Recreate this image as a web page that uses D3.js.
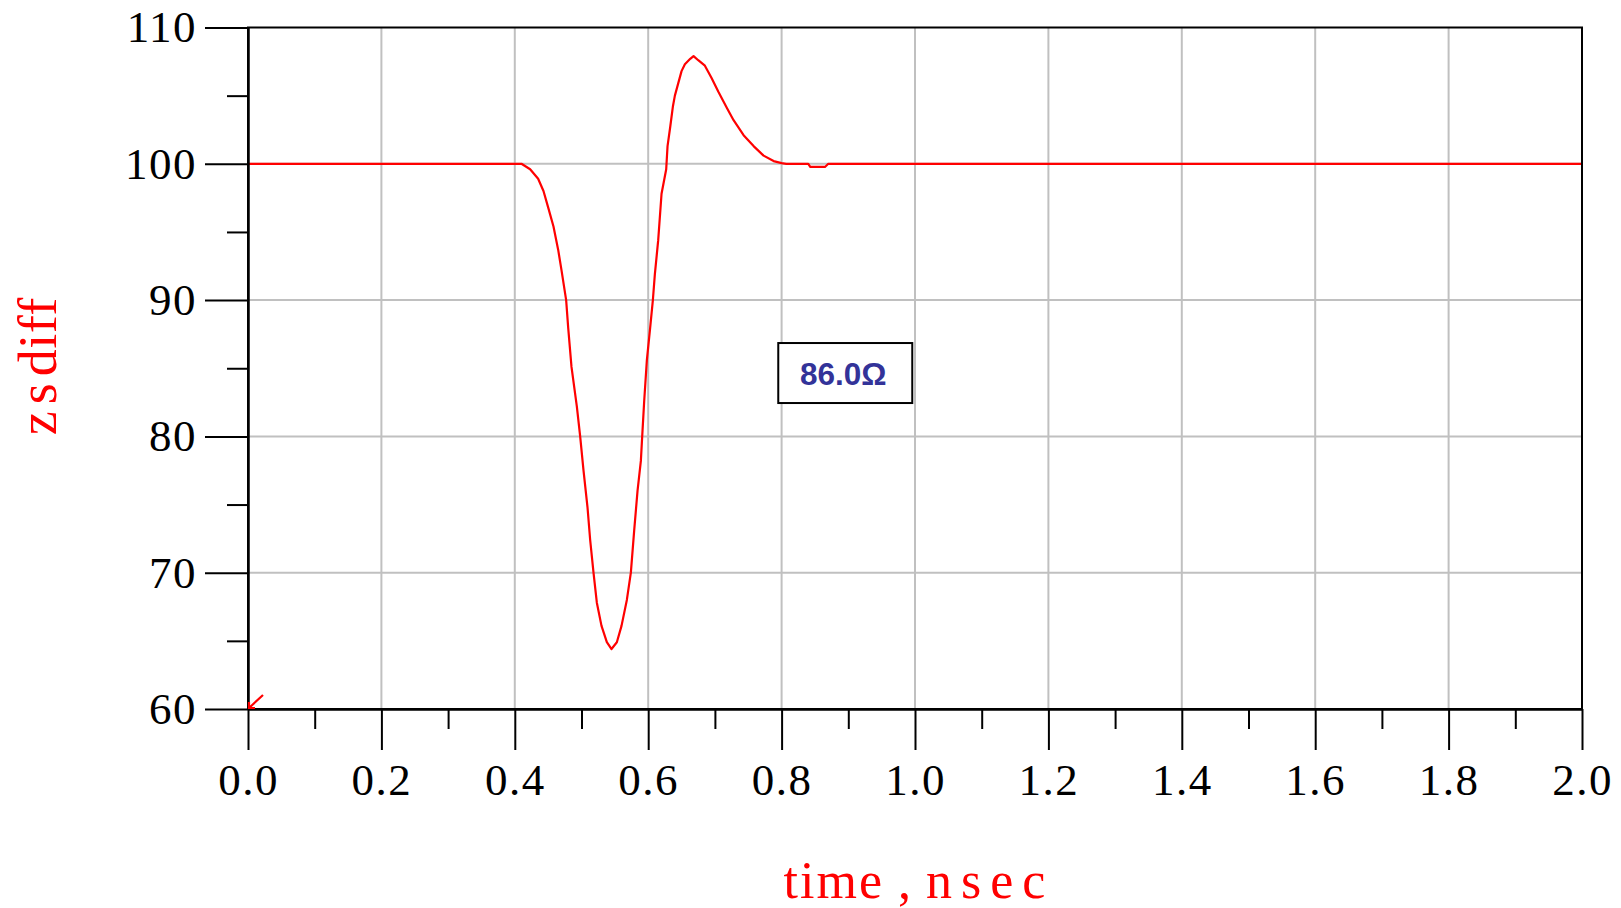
<!DOCTYPE html>
<html>
<head>
<meta charset="utf-8">
<script src="https://cdn.jsdelivr.net/npm/d3@7"></script>
<style>
  body { margin: 0; background: #fff; }
  svg { display: block; }
</style>
</head>
<body>
<div id="chart"></div>
<script>
// time (nsec) and zsdiff (ohm)
var times = [0.0, 0.41, 0.423, 0.435, 0.443, 0.45, 0.458, 0.465, 0.47, 0.477, 0.48, 0.485,
  0.493, 0.498, 0.503, 0.509, 0.513, 0.518, 0.523, 0.53, 0.538, 0.545, 0.553, 0.56, 0.568,
  0.574, 0.579, 0.584, 0.589, 0.591, 0.594, 0.598, 0.603, 0.607, 0.61, 0.615, 0.62, 0.627,
  0.629, 0.633, 0.637, 0.64, 0.645, 0.65, 0.655, 0.663, 0.668, 0.675, 0.685, 0.695, 0.705,
  0.718, 0.728, 0.743, 0.758, 0.773, 0.788, 0.8, 0.807, 0.84, 0.843, 0.865, 0.87, 2.0];
var zsdiff = [100, 100, 99.6, 98.9, 98.0, 96.8, 95.4, 93.7, 92.2, 90.0, 88.0, 85.1,
  82.2, 80.0, 77.5, 74.8, 72.4, 70.0, 67.8, 66.1, 64.9, 64.4, 64.9, 66.1, 68.0,
  70.0, 73.1, 76.0, 78.2, 80.0, 82.6, 85.6, 88.0, 90.0, 91.9, 94.4, 97.8, 99.6,
  101.3, 102.7, 104.2, 105.0, 105.9, 106.8, 107.3, 107.7, 107.9, 107.6, 107.2, 106.3, 105.3,
  104.1, 103.2, 102.1, 101.3, 100.6, 100.2, 100.05, 100, 100, 99.77, 99.77, 100, 100];

var xTicks = [0, 0.2, 0.4, 0.6, 0.8, 1.0, 1.2, 1.4, 1.6, 1.8, 2.0];
var xMinor = [0.1, 0.3, 0.5, 0.7, 0.9, 1.1, 1.3, 1.5, 1.7, 1.9];
var yTicks = [60, 70, 80, 90, 100, 110];
var yMinor = [65, 75, 85, 95, 105];

// marker readout
var markerText = "86.0\u03A9";
var markerAt = [0.795, 86.85];

var W = 1621, H = 908;
var margin = { top: 27.5, right: 39, bottom: 199, left: 248 };
var width = W - margin.left - margin.right,
    height = H - margin.top - margin.bottom;

var svg = d3.select("#chart").append("svg")
  .attr("width", W).attr("height", H);
var g = svg.append("g")
  .attr("transform", "translate(" + margin.left + "," + margin.top + ")");

var x = d3.scaleLinear().domain([0, 2]).range([0, width]);
var y = d3.scaleLinear().domain([60, 110]).range([height, 0]);

var serif = "'Liberation Serif', 'Times New Roman', serif";

// grid
g.append("g").selectAll("line").data(xTicks.slice(1, -1)).enter().append("line")
  .attr("x1", d => x(d)).attr("x2", d => x(d))
  .attr("y1", 0).attr("y2", height)
  .attr("stroke", "#c0c0c0").attr("stroke-width", 2);
g.append("g").selectAll("line").data(yTicks.slice(1, -1)).enter().append("line")
  .attr("y1", d => y(d)).attr("y2", d => y(d))
  .attr("x1", 0).attr("x2", width)
  .attr("stroke", "#c0c0c0").attr("stroke-width", 2);

// trace
var pts = times.map((t, i) => [t, zsdiff[i]]);
g.append("path")
  .datum(pts)
  .attr("fill", "none")
  .attr("stroke", "#ff0000")
  .attr("stroke-width", 2.2)
  .attr("stroke-linejoin", "round")
  .attr("d", d3.line().x(d => x(d[0])).y(d => y(d[1])));

// frame
g.append("rect")
  .attr("x", 0).attr("y", 0).attr("width", width).attr("height", height)
  .attr("fill", "none").attr("stroke", "#000").attr("stroke-width", 2);

// axes
var yAxis = g.append("g")
  .call(d3.axisLeft(y).tickValues(yTicks).tickSize(43).tickSizeOuter(0).tickPadding(8));
var yAxisMinor = g.append("g")
  .call(d3.axisLeft(y).tickValues(yMinor).tickSize(21).tickSizeOuter(0).tickFormat(""));
var xAxis = g.append("g").attr("transform", "translate(0," + height + ")")
  .call(d3.axisBottom(x).tickValues(xTicks).tickSize(41).tickSizeOuter(0)
    .tickPadding(13).tickFormat(d3.format(".1f")));
var xAxisMinor = g.append("g").attr("transform", "translate(0," + height + ")")
  .call(d3.axisBottom(x).tickValues(xMinor).tickSize(20).tickSizeOuter(0).tickFormat(""));

[yAxis, yAxisMinor, xAxis, xAxisMinor].forEach(function(a) {
  a.select(".domain").attr("stroke-width", 2);
  a.selectAll(".tick line").attr("stroke-width", 2);
  a.selectAll(".tick text")
    .attr("font-family", serif)
    .attr("font-size", 45)
    .attr("letter-spacing", 1.5)
    .attr("fill", "#000");
});

// axis titles
svg.append("text")
  .attr("x", margin.left + width / 2 + 4).attr("y", 898)
  .attr("text-anchor", "middle")
  .attr("font-family", serif).attr("font-size", 52)
  .attr("fill", "#ff0000")
  .call(function(t) {
    t.append("tspan").attr("letter-spacing", 2).text("time");
    t.append("tspan").attr("letter-spacing", 1).text(" , ");
    t.append("tspan").attr("letter-spacing", 9).text("nsec");
  });

svg.append("text")
  .attr("transform", "translate(56," + (margin.top + height / 2 - 2) + ") rotate(-90)")
  .attr("text-anchor", "middle")
  .attr("font-family", serif).attr("font-size", 54)
  .attr("fill", "#ff0000")
  .call(function(t) {
    t.append("tspan").attr("letter-spacing", 7).text("zs");
    t.append("tspan").attr("letter-spacing", 0.5).text("diff");
  });

// marker readout box
var bx = x(markerAt[0]), by = y(markerAt[1]);
g.append("rect")
  .attr("x", bx).attr("y", by).attr("width", 134).attr("height", 60)
  .attr("fill", "#fff").attr("stroke", "#000").attr("stroke-width", 2);
g.append("text")
  .attr("x", bx + 65).attr("y", by + 42)
  .attr("text-anchor", "middle")
  .attr("font-family", "'Liberation Sans', Arial, sans-serif")
  .attr("font-weight", "bold").attr("font-size", 31.5)
  .attr("fill", "#333399")
  .text(markerText);

// small red arrow at origin
var ox = x(0), oy = y(60);
g.append("path")
  .attr("d", "M" + (ox + 15) + "," + (oy - 14) + "L" + (ox + 1) + "," + (oy - 1) +
    "M" + (ox + 1) + "," + (oy - 7) + "L" + (ox + 1) + "," + (oy - 1) + "L" + (ox + 7) + "," + (oy - 1))
  .attr("fill", "none").attr("stroke", "#ff0000").attr("stroke-width", 2.2);
</script>
</body>
</html>
